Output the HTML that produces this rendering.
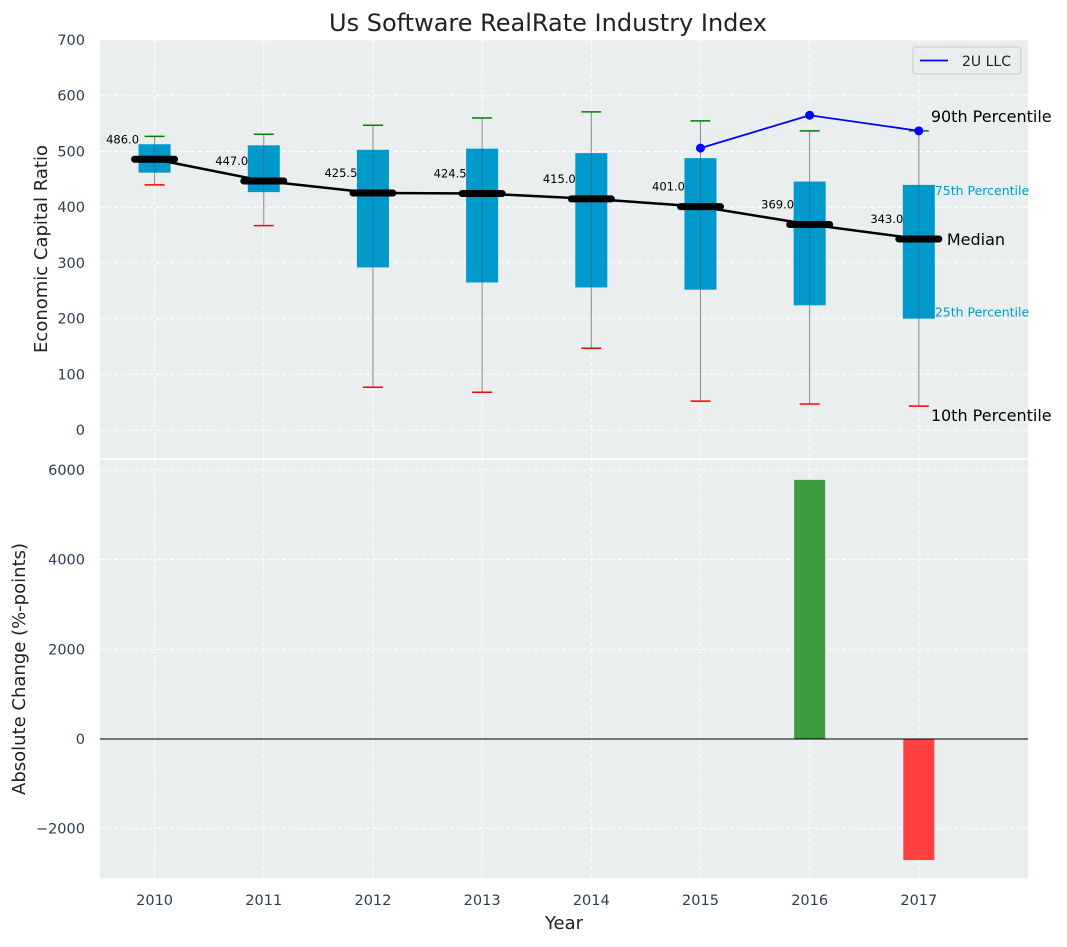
<!DOCTYPE html>
<html><head><meta charset="utf-8"><style>
body{margin:0;background:#fff;font-family:"Liberation Sans","DejaVu Sans",sans-serif}
svg text{font-family:"DejaVu Sans","Liberation Sans",sans-serif}
</style></head><body>
<svg id="c" width="1067" height="942" xmlns="http://www.w3.org/2000/svg"></svg>
<script>
const years=[2010,2011,2012,2013,2014,2015,2016,2017];
const p10=[440,367,77,68,147,52,47,43];
const p25=[462,427,292,265,256,252,224,200];
const med=[486,447,425.5,424.5,415,401,369,343];
const p75=[513,511,503,505,497,488,446,440];
const p90=[527,531,547,560,571,555,537,537];
const coYears=[2015,2016,2017];
const coVals=[506,565,537];
const chgYears=[2016,2017];
const chgVals=[5780,-2700];
const topTicks=[0,100,200,300,400,500,600,700];
const botTicks=[-2000,0,2000,4000,6000];

const NS="http://www.w3.org/2000/svg";
const svg=document.getElementById('c');
function el(t,a,txt){const e=document.createElementNS(NS,t);for(const k in a)e.setAttribute(k,a[k]);if(txt!=null)e.textContent=txt;svg.appendChild(e);return e;}
const X0=100,X1=1028;
const x=v=>X0+(v-2009.5)/(2018-2009.5)*(X1-X0);
const T0=40,T1=458,B0=460,B1=878;
const yt=v=>T1-(v+50)/(750)*(T1-T0);
const yb=v=>B1-(v+3100)/(9323)*(B1-B0);

let e=el('rect',{x:X0,y:T0,width:X1-X0,height:T1-T0,fill:'#eaeeee'});

e=el('rect',{x:X0,y:B0,width:X1-X0,height:B1-B0,fill:'#eaeeee'});


topTicks.forEach(t=>{el('line',{x1:X0,x2:X1,y1:yt(t),y2:yt(t),stroke:'#fff','stroke-dasharray':'4,3'});
 e=el('text',{x:85,y:yt(t)+5,'text-anchor':'end','font-size':14.5,fill:'#2c3e50'},t);
 });
botTicks.forEach(t=>{el('line',{x1:X0,x2:X1,y1:yb(t),y2:yb(t),stroke:'#fff','stroke-dasharray':'4,3'});
 e=el('text',{x:85,y:yb(t)+5,'text-anchor':'end','font-size':14.5,fill:'#2c3e50'},t<0?'\u2212'+(-t):t);
 });
years.forEach(yr=>{el('line',{x1:x(yr),x2:x(yr),y1:T0,y2:T1,stroke:'#fff','stroke-dasharray':'4,3'});
 el('line',{x1:x(yr),x2:x(yr),y1:B0,y2:B1,stroke:'#fff','stroke-dasharray':'4,3'});
 e=el('text',{x:x(yr),y:905,'text-anchor':'middle','font-size':14.5,fill:'#2c3e50'},yr);
 });

years.forEach((yr,i)=>{const cx=x(yr);
 e=el('line',{x1:cx,x2:cx,y1:yt(p10[i]),y2:yt(p90[i]),stroke:'#888','stroke-width':1});
 
 e=el('rect',{x:cx-16,y:yt(p75[i]),width:32,height:yt(p25[i])-yt(p75[i]),fill:'#0099cc'});
 
 el('line',{x1:cx,x2:cx,y1:yt(p75[i]),y2:yt(p25[i]),stroke:'#456','stroke-width':0.8,opacity:0.6});
 e=el('line',{x1:cx-10,x2:cx+10,y1:yt(p90[i]),y2:yt(p90[i]),stroke:'green','stroke-width':1.5});
 
 e=el('line',{x1:cx-10,x2:cx+10,y1:yt(p10[i]),y2:yt(p10[i]),stroke:'red','stroke-width':1.5});
 
});
e=el('polyline',{points:years.map((yr,i)=>x(yr)+','+yt(med[i])).join(' '),fill:'none',stroke:'#000','stroke-width':2.5});

years.forEach((yr,i)=>{const cx=x(yr),cy=yt(med[i]);
 e=el('line',{x1:cx-20,x2:cx+20,y1:cy,y2:cy,stroke:'#000','stroke-width':7,'stroke-linecap':'round'});
 
 e=el('text',{x:cx-32,y:cy-16,'text-anchor':'middle','font-size':11.5,fill:'#000'},med[i].toFixed(1));
 
});
e=el('polyline',{points:coYears.map((yr,i)=>x(yr)+','+yt(coVals[i])).join(' '),fill:'none',stroke:'blue','stroke-width':1.8});

coYears.forEach((yr,i)=>{e=el('circle',{cx:x(yr),cy:yt(coVals[i]),r:4.5,fill:'blue'});
 });
const lx=x(2017);
[['90th Percentile',lx+12,yt(p90[7])-9,16,'#000'],['75th Percentile',lx+16,yt(p75[7])+10,12.5,'#0099cc'],
 ['Median',lx+28,yt(med[7])+6,16,'#000'],['25th Percentile',lx+16,yt(p25[7])-2,12.5,'#0099cc'],
 ['10th Percentile',lx+12,yt(p10[7])+15,16,'#000']].forEach(a=>{
 e=el('text',{x:a[1],y:a[2],'font-size':a[3],fill:a[4]},a[0]);
 });
e=el('rect',{x:913,y:47,width:108,height:27,fill:'#eaeeee',stroke:'#ccc',rx:3});

el('line',{x1:920,x2:948,y1:60.5,y2:60.5,stroke:'blue','stroke-width':1.8});
e=el('text',{x:962,y:66,'font-size':14,fill:'#222'},'2U LLC');

chgYears.forEach((yr,i)=>{const v=chgVals[i];
 e=el('rect',{x:x(yr)-15.5,y:Math.min(yb(0),yb(v)),width:31,height:Math.abs(yb(v)-yb(0)),fill:v>=0?'#3a9c3e':'#ff4040'});
 });
el('line',{x1:X0,x2:X1,y1:yb(0),y2:yb(0),stroke:'#000','stroke-width':1});
e=el('text',{x:548,y:31,'text-anchor':'middle','font-size':24,fill:'#222'},'Us Software RealRate Industry Index');

e=el('text',{x:47,y:249,'text-anchor':'middle','font-size':18,fill:'#222',transform:'rotate(-90 47 249)'},'Economic Capital Ratio');

e=el('text',{x:25,y:669,'text-anchor':'middle','font-size':18,fill:'#222',transform:'rotate(-90 25 669)'},'Absolute Change (%-points)');

e=el('text',{x:564,y:929,'text-anchor':'middle','font-size':18,fill:'#222'},'Year');

</script>
</body></html>
